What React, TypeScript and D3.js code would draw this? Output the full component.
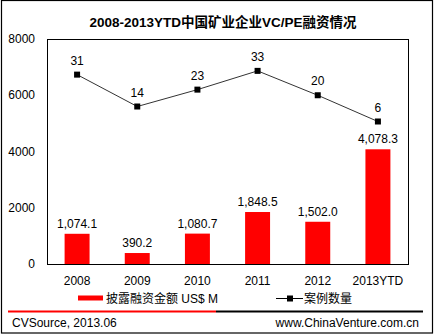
import React from "react";
import * as d3 from "d3";

const years = ["2008", "2009", "2010", "2011", "2012", "2013YTD"];
const amounts = [1074.1, 390.2, 1080.7, 1848.5, 1502.0, 4078.3];
const counts = [31, 14, 23, 33, 20, 6];
const yTicks = [0, 2000, 4000, 6000, 8000];
const title = "2008-2013YTD中国矿业企业VC/PE融资情况";
const legendBar = "披露融资金额  US$ M";
const legendLine = "案例数量";
const sourceText = "CVSource, 2013.06";
const siteText = "www.ChinaVenture.com.cn";

const W = 435;
const H = 335;
const plot = { left: 47, right: 408, top: 39, bottom: 264 };
const font = "'Liberation Sans', Arial, 'Noto Sans CJK SC', sans-serif";

export default function App() {
  const x = d3
    .scaleBand<string>()
    .domain(years)
    .range([plot.left, plot.right])
    .paddingInner(0.585)
    .paddingOuter(0.2925);
  const y = d3.scaleLinear().domain([0, 8000]).range([plot.bottom, plot.top]);
  const y2 = d3.scaleLinear().domain([-70, 50]).range([plot.bottom, plot.top]);
  const fmt = d3.format(",.1f");
  const cx = (d: string) => (x(d) as number) + x.bandwidth() / 2;
  const line = d3
    .line<number>()
    .x((_, i) => cx(years[i]))
    .y((d) => y2(d));

  return (
    <svg
      width={W}
      height={H}
      style={{ position: "absolute", left: 0, top: 0, background: "#fff" }}
      fontFamily={font}
    >
      <rect x={1.5} y={0.5} width={431} height={332.5} fill="#fff" stroke="#000" strokeWidth={1.2} />
      <text x={223} y={27} textAnchor="middle" fontSize={13.5} fontWeight="bold" fill="#000">
        {title}
      </text>
      {/* bars */}
      {years.map((yr, i) => (
        <rect
          key={yr}
          x={x(yr)}
          y={y(amounts[i])}
          width={x.bandwidth()}
          height={plot.bottom - y(amounts[i])}
          fill="#ff0000"
        />
      ))}
      {years.map((yr, i) => (
        <text key={"bl" + yr} x={cx(yr)} y={y(amounts[i]) - 6} textAnchor="middle" fontSize={12} fill="#000">
          {fmt(amounts[i])}
        </text>
      ))}
      {/* plot border */}
      <rect
        x={plot.left + 0.5}
        y={plot.top + 0.5}
        width={plot.right - plot.left}
        height={plot.bottom - plot.top}
        fill="none"
        stroke="#000"
        strokeWidth={1}
      />
      {/* y ticks */}
      {yTicks.map((t) => (
        <text key={t} x={35} y={y(t) + 4} textAnchor="end" fontSize={12} fill="#000">
          {t}
        </text>
      ))}
      {/* x labels */}
      {years.map((yr) => (
        <text key={"x" + yr} x={cx(yr)} y={285} textAnchor="middle" fontSize={12} fill="#000">
          {yr}
        </text>
      ))}
      {/* line */}
      <path d={line(counts) || ""} fill="none" stroke="#333" strokeWidth={1} />
      {counts.map((c, i) => (
        <rect key={"m" + i} x={cx(years[i]) - 3} y={y2(c) - 3} width={6} height={6} fill="#000" />
      ))}
      {counts.map((c, i) => (
        <text key={"l" + i} x={cx(years[i])} y={y2(c) - 10} textAnchor="middle" fontSize={12} fill="#000">
          {c}
        </text>
      ))}
      {/* legend */}
      <rect x={78} y={295.5} width={25} height={5} fill="#ff0000" />
      <text x={106} y={303} fontSize={12} fill="#000">
        {legendBar}
      </text>
      <line x1={276} x2={303} y1={298.5} y2={298.5} stroke="#000" strokeWidth={1} />
      <rect x={287} y={295.5} width={6} height={6} fill="#000" />
      <text x={304} y={303} fontSize={12} fill="#000">
        {legendLine}
      </text>
      {/* separator */}
      <line x1={8} x2={216} y1={311.5} y2={311.5} stroke="#ff0000" strokeWidth={2} />
      <line x1={216} x2={423} y1={311.5} y2={311.5} stroke="#000" strokeWidth={2} />
      {/* footer */}
      <text x={12} y={327} fontSize={12} fill="#000">
        {sourceText}
      </text>
      <text x={419} y={327} textAnchor="end" fontSize={12} fill="#000">
        {siteText}
      </text>
    </svg>
  );
}
